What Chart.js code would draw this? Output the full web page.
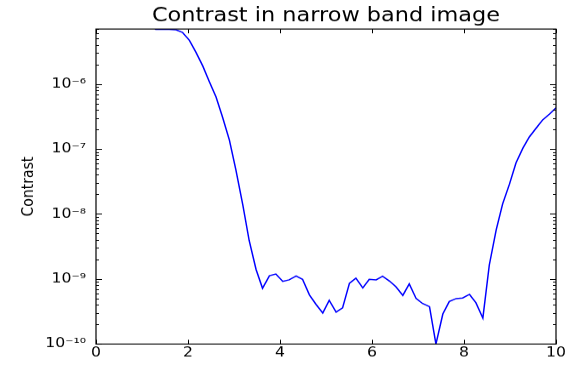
<!DOCTYPE html>
<html lang="en">
<head>
<meta charset="UTF-8">
<title>Contrast in narrow band image</title>
<script src="https://cdn.jsdelivr.net/npm/chart.js"></script>
<style>
    html, body { margin: 0; padding: 0; background: #fff; overflow: hidden; }
    /* the reference is squashed vertically, so draw taller and scale it down */
    .squash { width: 571px; height: 429px; transform: scaleY(0.8508); transform-origin: 0 0; }
</style>
</head>
<body>

<div class="squash"><canvas id="contrastChart"></canvas></div>

<script>
    // sample positions (x) and contrast values
    const xValues = [0, 0.14, 0.29, 0.43, 0.58, 0.72, 0.87, 1.01, 1.16, 1.30,
        1.45, 1.59, 1.74, 1.88, 2.03, 2.17, 2.32, 2.46, 2.61, 2.75,
        2.90, 3.04, 3.19, 3.33, 3.48, 3.62, 3.77, 3.91, 4.06, 4.20,
        4.35, 4.49, 4.64, 4.78, 4.93, 5.07, 5.22, 5.36, 5.51, 5.65,
        5.80, 5.94, 6.09, 6.23, 6.38, 6.52, 6.67, 6.81, 6.96, 7.10,
        7.25, 7.39, 7.54, 7.68, 7.83, 7.97, 8.12, 8.26, 8.41, 8.55,
        8.70, 8.84, 8.99, 9.13, 9.28, 9.42, 9.57, 9.71, 9.86, 10];

    const contrast = [9e-6, 9e-6, 9e-6, 9e-6, 9e-6, 9e-6, 9e-6, 9e-6, 9e-6, 6.9e-6,
        6.9e-6, 6.9e-6, 6.8e-6, 6.2e-6, 4.7e-6, 3.1e-6, 1.9e-6, 1.1e-6, 6.3e-7, 3.1e-7,
        1.37e-7, 4.8e-8, 1.4e-8, 3.9e-9, 1.4e-9, 7.2e-10, 1.12e-9, 1.19e-9, 9.2e-10, 9.7e-10,
        1.11e-9, 9.9e-10, 5.7e-10, 4.1e-10, 3.0e-10, 4.7e-10, 3.1e-10, 3.6e-10, 8.6e-10, 1.03e-9,
        7.3e-10, 9.9e-10, 9.7e-10, 1.10e-9, 9.3e-10, 7.6e-10, 5.6e-10, 8.4e-10, 5.0e-10, 4.2e-10,
        3.75e-10, 1.0e-10, 2.9e-10, 4.5e-10, 5.0e-10, 5.1e-10, 5.8e-10, 4.3e-10, 2.5e-10, 1.64e-9,
        5.7e-9, 1.43e-8, 2.9e-8, 6.1e-8, 1.03e-7, 1.53e-7, 2.1e-7, 2.8e-7, 3.45e-7, 4.3e-7];

    const xTicks = [0, 2, 4, 6, 8, 10];
    const yDecades = [1e-10, 1e-9, 1e-8, 1e-7, 1e-6];
    const yMin = 1e-10;
    const yMax = 7e-6;

    const SQUASH = 365 / 429;
    const FONT = "'DejaVu Sans', Verdana, sans-serif";

    const supDigits = { "-": "\u207B", "0": "\u2070", "1": "\u00B9", "2": "\u00B2", "3": "\u00B3",
        "4": "\u2074", "5": "\u2075", "6": "\u2076", "7": "\u2077", "8": "\u2078", "9": "\u2079" };

    function decadeLabel(v) {
        let e = String(Math.round(Math.log10(v)));
        return "10" + e.split("").map(c => supDigits[c]).join("");
    }

    // inward ticks on all four sides plus the black frame
    const frameTicks = {
        id: "frameTicks",
        afterDatasetsDraw(chart) {
            let { ctx, chartArea: a, scales: { x, y } } = chart;
            ctx.save();
            ctx.strokeStyle = "#000";
            ctx.lineWidth = 1;
            ctx.beginPath();
            xTicks.forEach(v => {
                let px = Math.round(x.getPixelForValue(v)) + 0.5;
                ctx.moveTo(px, a.bottom); ctx.lineTo(px, a.bottom - 5);
                ctx.moveTo(px, a.top); ctx.lineTo(px, a.top + 5);
            });
            yDecades.forEach(d => {
                for (let m = 1; m <= 9; m++) {
                    let v = m * d;
                    if (v > yMax) break;
                    let len = m === 1 ? 6 : 3;
                    let py = Math.round(y.getPixelForValue(v)) + 0.5;
                    ctx.moveTo(a.left, py); ctx.lineTo(a.left + len, py);
                    ctx.moveTo(a.right, py); ctx.lineTo(a.right - len, py);
                }
            });
            ctx.stroke();
            ctx.lineWidth = 1.2;
            ctx.strokeRect(a.left, a.top, a.right - a.left, a.bottom - a.top);
            ctx.restore();
        }
    };

    new Chart(document.getElementById("contrastChart"), {
        type: "line",
        data: {
            datasets: [{
                label: "Contrast",
                data: xValues.map((x, i) => ({ x: x, y: contrast[i] })),
                borderColor: "#0000ff",
                borderWidth: 1.5,
                pointRadius: 0,
                tension: 0,
                fill: false
            }]
        },
        options: {
            responsive: true,
            maintainAspectRatio: false,
            animation: false,
            events: [],
            layout: { padding: { left: 0, right: 15, top: 0, bottom: 0 } },
            plugins: {
                legend: { display: false },
                tooltip: { enabled: false },
                title: {
                    display: true,
                    fullSize: false,
                    text: "Contrast in narrow band image",
                    color: "#000",
                    font: { family: FONT, size: 22.4, weight: "normal", lineHeight: 1 },
                    padding: { top: 7.8, bottom: 3.9 }
                }
            },
            scales: {
                x: {
                    type: "linear",
                    min: 0,
                    max: 10,
                    grid: { display: false, drawTicks: false },
                    border: { display: false },
                    ticks: {
                        stepSize: 2,
                        autoSkip: false,
                        maxRotation: 0,
                        padding: 1.5,
                        color: "#000",
                        font: { family: FONT, size: 15.7 }
                    },
                    afterFit(s) { s.height = 429 - 344 / SQUASH; }
                },
                y: {
                    type: "logarithmic",
                    min: yMin,
                    max: yMax,
                    bounds: "data",
                    grid: { display: false, drawTicks: false },
                    border: { display: false },
                    afterBuildTicks(s) { s.ticks = yDecades.map(v => ({ value: v })); },
                    ticks: {
                        autoSkip: false,
                        padding: 10,
                        color: "#000",
                        font: { family: FONT, size: 15.7 },
                        callback: v => decadeLabel(v)
                    },
                    title: {
                        display: true,
                        text: "Contrast",
                        color: "#000",
                        font: { family: FONT, size: 16.5 },
                        padding: { top: 18.4, bottom: 0 }
                    },
                    afterFit(s) { s.width = 96; }
                }
            }
        },
        plugins: [frameTicks]
    });
</script>

</body>
</html>
